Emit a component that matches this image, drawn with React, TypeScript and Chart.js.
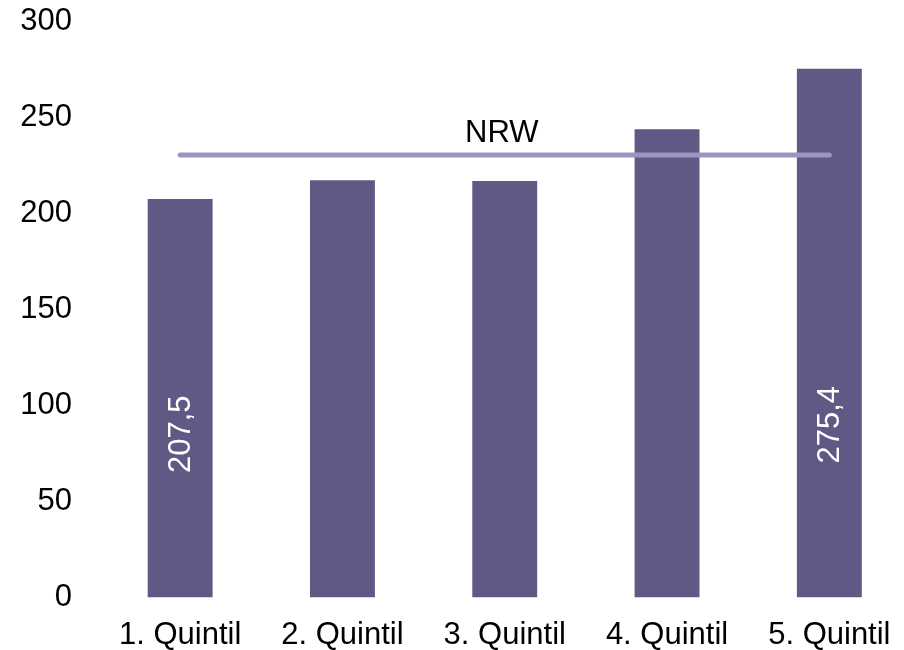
import React, { useEffect, useRef } from "react";
import { Chart, registerables } from "chart.js";

Chart.register(...registerables);

// Quintile categories and bar values
const categories = ["1. Quintil", "2. Quintil", "3. Quintil", "4. Quintil", "5. Quintil"];
const quintilValues = [207.5, 217.3, 216.9, 243.9, 275.4];
// Reference level for the state of NRW
const nrwLabel = "NRW";
const nrwValue = 230.5;
// Bars that carry a printed value
const labelledBars = [0, 4];
const yTicks = [0, 50, 100, 150, 200, 250, 300];

const FONT = "'Liberation Sans', Arial, sans-serif";
const BAR_COLOR = "#615885";
const LINE_COLOR = "#9d95c1";

const formatValue = (v: number) => v.toFixed(1).replace(".", ",");

const valueLabelPlugin = {
  id: "valueLabels",
  afterDatasetsDraw(chart: any, _args: any, opts: any) {
    const { ctx, scales } = chart;
    const meta = chart.getDatasetMeta(0);
    ctx.save();
    ctx.font = `31px ${FONT}`;
    ctx.fillStyle = "#ffffff";
    ctx.textAlign = "center";
    ctx.textBaseline = "middle";
    labelledBars.forEach((i) => {
      const bar = meta.data[i];
      if (!bar) return;
      const level = opts.levels[i] ?? quintilValues[i] / 2;
      const y = scales.y.getPixelForValue(level);
      ctx.save();
      ctx.translate(bar.x, y);
      ctx.rotate(-Math.PI / 2);
      ctx.fillText(formatValue(quintilValues[i]), 0, 1);
      ctx.restore();
    });
    // Name of the reference line, centred above it
    const lineMeta = chart.getDatasetMeta(1);
    const pts = lineMeta.data;
    if (pts.length >= 2) {
      const cx = (pts[0].x + pts[pts.length - 1].x) / 2;
      const ly = pts[0].y;
      ctx.fillStyle = "#000000";
      ctx.textBaseline = "middle";
      ctx.fillText(nrwLabel, cx - 3, ly - 21);
    }
    ctx.restore();
  },
};

export default function App() {
  const canvasRef = useRef<HTMLCanvasElement | null>(null);

  useEffect(() => {
    if (!canvasRef.current) return;
    const chart = new Chart(canvasRef.current, {
      type: "bar",
      data: {
        datasets: [
          {
            type: "bar",
            label: "Quintile",
            data: quintilValues.map((v, i) => ({ x: i, y: v })),
            backgroundColor: BAR_COLOR,
            borderWidth: 0,
            categoryPercentage: 1,
            barPercentage: 0.4,
            order: 1,
          },
          {
            type: "line",
            label: nrwLabel,
            data: [
              { x: 0, y: nrwValue },
              { x: categories.length - 1, y: nrwValue },
            ],
            borderColor: LINE_COLOR,
            borderWidth: 5,
            borderCapStyle: "round",
            pointRadius: 0,
            fill: false,
            order: 0,
          },
        ],
      } as any,
      options: {
        responsive: false,
        animation: false,
        layout: { padding: { left: 20, right: 0, top: 21.5, bottom: 0 } },
        plugins: {
          legend: { display: false },
          tooltip: { enabled: false },
          valueLabels: { levels: { 0: 85, 4: 90 } },
        } as any,
        scales: {
          x: {
            type: "linear",
            offset: false,
            min: -0.5,
            max: 4.46,
            grid: { display: false, drawTicks: false, offset: false },
            border: { display: false },
            afterBuildTicks: (axis: any) => {
              axis.ticks = categories.map((_, i) => ({ value: i }));
            },
            afterFit: (axis: any) => {
              axis.height = 52.5;
              axis.paddingLeft = 0;
              axis.paddingRight = 0;
            },
            ticks: {
              autoSkip: false,
              maxRotation: 0,
              padding: 19,
              color: "#000000",
              font: { family: FONT, size: 31 },
              callback: (v: any) => categories[v as number] ?? "",
            },
          },
          y: {
            min: 0,
            max: 300,
            grid: { display: false, drawTicks: false },
            border: { display: false },
            afterBuildTicks: (axis: any) => {
              axis.ticks = yTicks.map((v) => ({ value: v }));
            },
            afterFit: (axis: any) => {
              axis.width = 79;
              axis.paddingTop = 0;
              axis.paddingBottom = 0;
            },
            ticks: {
              padding: 27,
              color: "#000000",
              font: { family: FONT, size: 31 },
            },
          },
        },
      },
      plugins: [valueLabelPlugin],
    });
    return () => chart.destroy();
  }, []);

  return (
    <div style={{ position: "absolute", left: 0, top: 0, width: 904, height: 650, background: "#ffffff" }}>
      <canvas ref={canvasRef} width={904} height={650} />
    </div>
  );
}
